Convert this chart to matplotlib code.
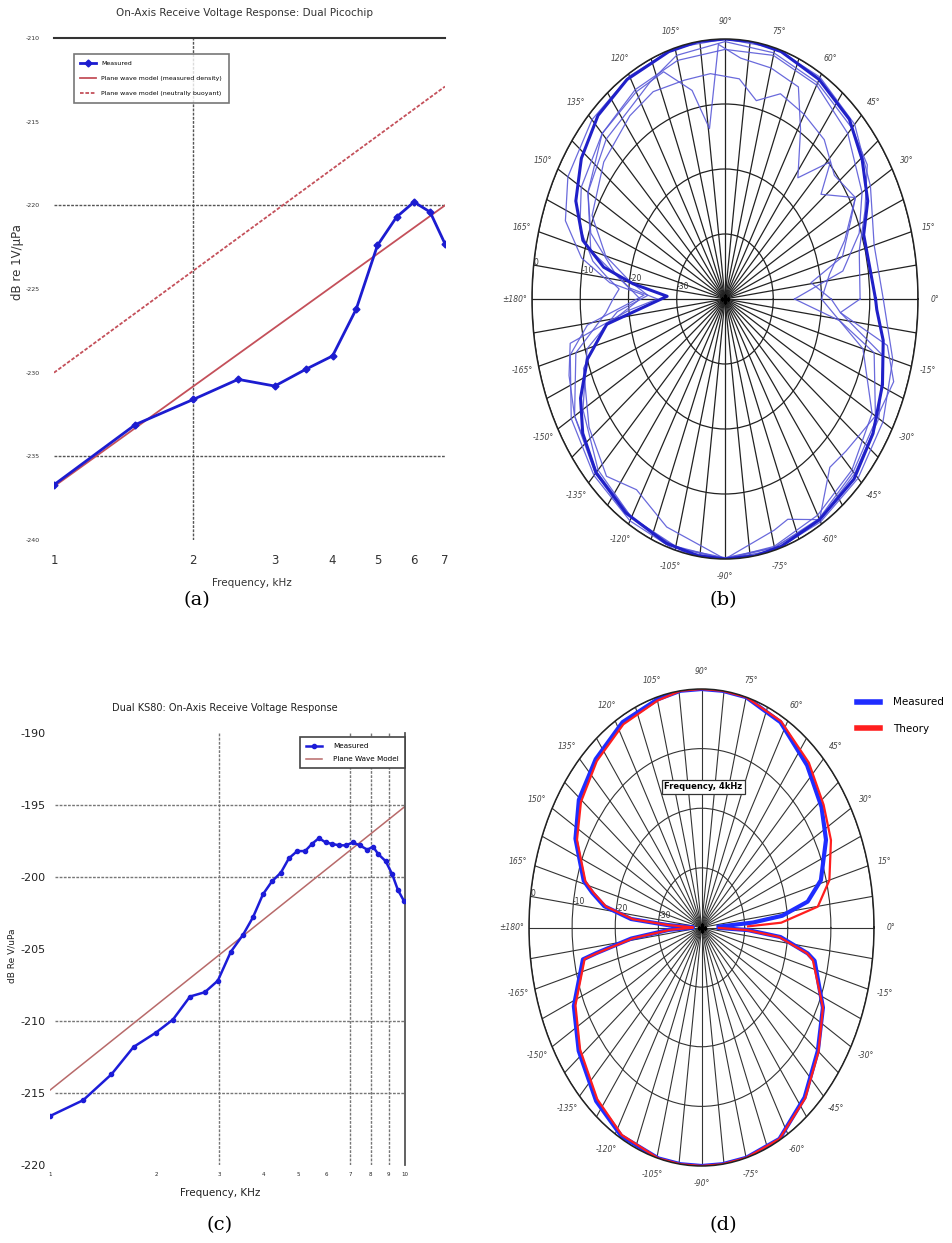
import numpy as np
import matplotlib
matplotlib.use("Agg")
import matplotlib.pyplot as plt
from matplotlib.lines import Line2D

plt.rcParams['axes.unicode_minus'] = False

# ---- panel (a): Dual Picochip on-axis receive voltage response ----
a_freq = [1.0, 1.5, 2.0, 2.5, 3.0, 3.5, 4.0, 4.5, 5.0, 5.5, 6.0, 6.5, 7.0]
a_meas = [-236.7, -233.1, -231.6, -230.4, -230.8, -229.8, -229.0, -226.2,
          -222.4, -220.7, -219.8, -220.4, -222.3]
a_model_freq = [1.0, 7.0]
a_model_density = [-236.8, -220.0]
a_model_buoyant = [-230.0, -212.9]

# ---- panel (c): Dual KS80 on-axis receive voltage response ----
c_freq = [1.0, 1.24, 1.49, 1.72, 1.99, 2.22, 2.48, 2.73, 2.97, 3.23, 3.50,
          3.73, 3.98, 4.22, 4.47, 4.71, 4.97, 5.23, 5.47, 5.72, 5.98, 6.23,
          6.52, 6.82, 7.13, 7.45, 7.83, 8.13, 8.40, 8.82, 9.20, 9.55, 9.95]
c_meas = [-216.6, -215.5, -213.7, -211.8, -210.8, -209.9, -208.3, -208.0,
          -207.2, -205.2, -204.0, -202.8, -201.2, -200.3, -199.7, -198.7,
          -198.2, -198.2, -197.7, -197.3, -197.6, -197.7, -197.8, -197.8,
          -197.6, -197.8, -198.1, -197.9, -198.4, -198.9, -199.8, -200.9,
          -201.7]
c_model_freq = [1.0, 10.0]
c_model = [-214.8, -195.1]

# ---- panel (b): beam patterns (dB, angle in degrees) ----
b_thick_ang = [0, 9, 19, 27, 37, 47, 60, 73, 82, 90, 98, 107, 121, 133, 144,
               154, 163, 169, 173, 178, 189, 198, 207, 215, 225, 238, 252, 262,
               270, 279, 287, 300, 314, 326, 338, 349, 357, 360]
b_thick_db = [-8.8, -9.6, -9.6, -6.8, -4.4, -2.2, -1.0, -0.2, 0.0, 0.0, 0.0,
              -0.2, -0.6, -1.4, -3.2, -5.6, -9.2, -14.4, -20.8, -28.0, -15.2,
              -10.0, -6.4, -4.0, -2.2, -1.2, -0.5, -0.1, 0.0, 0.0, -0.2, -0.8,
              -1.5, -3.0, -4.8, -6.6, -8.5, -8.8]

b_thin1_ang = [0, 15, 30, 45, 60, 75, 90, 105, 120, 135, 150, 160, 168, 174,
               178, 182, 188, 195, 210, 225, 240, 255, 270, 285, 300, 315, 330,
               345, 360]
b_thin1_db = [-7.2, -8.0, -5.2, -2.0, -0.6, 0.0, 0.0, 0.0, -0.4, -1.0, -2.4,
              -4.8, -9.6, -16.0, -23.2, -20.0, -11.2, -6.8, -3.2, -1.6, -0.6,
              0.0, 0.0, 0.0, -0.4, -1.0, -2.2, -4.0, -7.2]

b_thin2_ang = [0, 8, 15, 25, 30, 39, 44, 51, 59, 65, 75, 85, 92, 97, 102, 110,
               120, 135, 150, 160, 168, 172, 176, 180, 185, 195, 210, 225, 240,
               255, 270, 285, 300, 315, 330, 345, 355, 360]
b_thin2_db = [-18.0, -22.0, -14.8, -11.2, -8.8, -14.4, -9.6, -16.0, -9.6, -4.0,
              -3.2, -2.8, -0.8, -13.6, -7.2, -2.8, -3.2, -4.0, -5.6, -8.0,
              -12.0, -15.2, -18.0, -16.8, -15.2, -8.0, -4.0, -2.4, -1.2, -0.4,
              0.0, -0.4, -0.8, -2.0, -3.2, -6.0, -16.0, -18.0]

b_thin3_ang = [0, 10, 20, 30, 45, 60, 75, 90, 105, 120, 135, 150, 160, 170,
               180, 190, 200, 215, 228, 238, 251, 270, 286, 291, 300, 310, 317,
               330, 345, 352, 360]
b_thin3_db = [-25.6, -15.2, -10.4, -7.2, -4.0, -2.0, -1.2, -1.6, -2.0, -2.8,
              -4.0, -7.2, -10.4, -16.8, -22.4, -14.4, -8.8, -5.6, -3.3, -5.4,
              -2.9, 0.0, -3.0, -3.7, -0.8, -6.2, -5.7, -4.0, -8.0, -16.0, -25.6]

b_thin4_ang = [0, 15, 25, 35, 45, 60, 75, 90, 105, 115, 125, 135, 150, 165,
               175, 180, 185, 192, 200, 210, 225, 240, 255, 270, 285, 300, 315,
               330, 340, 348, 355, 360]
b_thin4_db = [-12.0, -11.2, -8.0, -4.0, -2.8, -1.6, -0.8, -0.4, -1.2, -3.2,
              -4.8, -5.2, -7.2, -11.2, -20.0, -26.0, -20.0, -7.2, -5.6, -4.0,
              -2.0, -1.2, -0.4, -0.2, -0.4, -1.0, -2.4, -3.6, -2.8, -5.6,
              -16.0, -12.0]

b_thin5_ang = [0, 10, 20, 30, 40, 50, 60, 70, 78, 85, 95, 104, 115, 125, 140,
               155, 165, 172, 178, 185, 195, 210, 225, 240, 255, 270, 285, 300,
               315, 330, 345, 360]
b_thin5_db = [-20.0, -18.0, -13.6, -8.8, -10.4, -8.0, -7.2, -6.4, -8.8, -6.0,
              -5.2, -5.3, -4.8, -5.6, -7.2, -9.6, -14.4, -20.0, -24.0, -17.6,
              -10.4, -6.0, -2.8, -1.2, -0.6, 0.0, -0.6, -1.6, -2.8, -4.8,
              -10.4, -20.0]

# ---- panel (d): measured vs theory at 4 kHz ----
d_meas_ang = [2, 4, 6, 10, 16, 27, 36, 48, 62, 75, 83, 90, 97, 105, 118, 131,
              143, 153, 164, 167, 171, 175, 177, 179, 181, 183, 186.5, 190,
              191, 204, 216, 230, 242, 255.5, 263, 270, 277, 285, 297, 310,
              322.5, 334.5, 348, 350, 355, 357.7, 359]
d_meas_db = [-36.0, -28.0, -21.2, -15.0, -11.2, -7.6, -5.6, -3.4, -1.0, 0.0,
             0.0, 0.0, 0.0, -0.4, -1.0, -2.6, -4.4, -7.2, -11.6, -14.0, -17.2,
             -23.6, -32.0, -38.0, -38.0, -32.4, -23.6, -15.2, -12.0, -7.6,
             -4.8, -2.0, -0.4, 0.0, 0.0, 0.0, 0.0, 0.0, -0.2, -2.8, -6.0, -8.8,
             -13.2, -15.0, -21.6, -29.2, -36.0]
d_theo_ang = [1, 2.5, 7.4, 15, 26, 36, 48, 62, 75, 83, 90, 97, 105, 118, 131,
              143, 153, 164, 167, 171, 175, 177, 179, 181, 183, 186.5, 190,
              191, 204, 216, 230, 242, 255.5, 263, 270, 277, 285, 297, 310,
              322.5, 334.5, 348, 350, 355, 357.7, 359]
d_theo_db = [-29.2, -21.5, -12.8, -9.3, -6.6, -5.0, -2.8, -0.8, 0.0, 0.0, 0.0,
             0.0, -0.6, -1.4, -3.0, -5.0, -7.6, -12.0, -14.4, -17.6, -24.0,
             -32.4, -38.0, -38.0, -32.8, -24.0, -15.6, -12.4, -8.0, -5.2, -2.4,
             -0.6, 0.0, 0.0, 0.0, 0.0, 0.0, -0.2, -2.6, -5.8, -8.8, -13.6,
             -15.2, -22.0, -29.6, -36.0]

theta_labels = ['0°', '15°', '30°', '45°', '60°', '75°', '90°', '105°', '120°',
                '135°', '150°', '165°', '±180°', '-165°', '-150°', '-135°',
                '-120°', '-105°', '-90°', '-75°', '-60°', '-45°', '-30°', '-15°']
ring_labels = ['-30', '-20', '-10', '0']

W, H = 952, 1243
fig = plt.figure(figsize=(W / 100, H / 100), dpi=100)


def box(l, t, r, b):
    return [l / W, 1 - b / H, (r - l) / W, (b - t) / H]


def ftext(x, y, s, **kw):
    fig.text(x / W, 1 - y / H, s, ha='center', va='center', **kw)


# ---------------- (a) ----------------
ax = fig.add_axes(box(54, 38, 445, 540))
ax.set_xscale('log')
ax.plot(a_model_freq, a_model_density, color='#c4505a', lw=1.3,
        label='Plane wave model (measured density)', zorder=2)
ax.plot(a_model_freq, a_model_buoyant, color='#c4505a', lw=1.3, ls=(0, (2, 1)),
        label='Plane wave model (neutrally buoyant)', zorder=2)
ax.plot(a_freq, a_meas, color='#1c1cd0', lw=2, marker='D', ms=3.5,
        label='Measured', zorder=3)
ax.set_xlim(1, 7)
ax.set_ylim(-240, -210)
ax.set_xticks([1, 2, 3, 4, 5, 6, 7])
ax.set_xticklabels(['1', '2', '3', '4', '5', '6', '7'])
ax.minorticks_off()
ax.set_yticks([-240, -235, -230, -225, -220, -215, -210])
ax.tick_params(axis='y', length=0, labelsize=4.5, pad=10, labelcolor='#333333')
ax.tick_params(axis='x', length=0, labelsize=8.5, pad=10, labelcolor='#333333')
for s in ['left', 'right', 'bottom']:
    ax.spines[s].set_visible(False)
ax.spines['top'].set_linewidth(1.5)
ax.spines['top'].set_color('#333333')
for yv in [-220, -235]:
    ax.axhline(yv, color='#555555', lw=1, ls=(0, (2, 1)), zorder=1)
ax.axvline(2, color='#555555', lw=1, ls=(0, (2, 1)), zorder=1)
h, l = ax.get_legend_handles_labels()
leg = ax.legend([h[2], h[0], h[1]], [l[2], l[0], l[1]], loc='upper left',
                bbox_to_anchor=(0.05, 0.968), fontsize=4.5, frameon=True,
                fancybox=False, edgecolor='#555555', handlelength=2.5,
                borderpad=1.1, labelspacing=1.5, borderaxespad=0)
leg.get_frame().set_linewidth(1.2)
ftext(245, 13, 'On-Axis Receive Voltage Response: Dual Picochip', fontsize=7.5,
      color='#333333')
ftext(18, 262, 'dB re 1V/µPa', fontsize=8.5, rotation=90, color='#333333')
ftext(252, 583, 'Frequency, kHz', fontsize=7.5, color='#333333')
ftext(197, 600, '(a)', fontsize=14, family='DejaVu Serif')

# ---------------- (c) ----------------
ax = fig.add_axes(box(50, 733, 405, 1165))
ax.set_xscale('log')
ax.plot(c_model_freq, c_model, color='#b86a6a', lw=1.1, label='Plane Wave Model',
        zorder=2)
ax.plot(c_freq, c_meas, color='#1c1cd8', lw=1.8, marker='o', ms=3,
        label='Measured', zorder=3)
ax.set_xlim(1, 10)
ax.set_ylim(-220, -190)
ax.set_xticks([1, 2, 3, 4, 5, 6, 7, 8, 9, 10])
ax.set_xticklabels(['1', '2', '3', '4', '5', '6', '7', '8', '9', '10'])
ax.minorticks_off()
ax.set_yticks([-220, -215, -210, -205, -200, -195, -190])
ax.tick_params(axis='y', length=0, labelsize=8, pad=3, labelcolor='#222222')
ax.tick_params(axis='x', length=0, labelsize=4, pad=5, labelcolor='#222222')
for s in ['left', 'top', 'bottom']:
    ax.spines[s].set_visible(False)
ax.spines['right'].set_color('#555555')
ax.spines['right'].set_linewidth(1.3)
for yv in [-195, -200, -210, -215]:
    ax.plot([1.03, 10], [yv, yv], color='#777777', lw=1, ls=(0, (2, 1)), zorder=1)
for xv in [3, 7, 8, 9]:
    ax.axvline(xv, color='#777777', lw=1, ls=(0, (2, 1)), zorder=1)
h, l = ax.get_legend_handles_labels()
leg = ax.legend([h[1], h[0]], [l[1], l[0]], loc='upper right',
                bbox_to_anchor=(1.0, 0.99), fontsize=5.2, frameon=True,
                fancybox=False, edgecolor='#444444', handlelength=2.2,
                handletextpad=1.6, borderpad=0.8, labelspacing=1.0,
                framealpha=1, borderaxespad=0)
leg.get_frame().set_linewidth(1.2)
ftext(225, 708, 'Dual KS80: On-Axis Receive Voltage Response', fontsize=7,
      color='#222222')
ftext(12, 956, 'dB Re V/uPa', fontsize=6.5, rotation=90, color='#222222')
ftext(220, 1193, 'Frequency, KHz', fontsize=7.5, color='#222222')
ftext(220, 1225, '(c)', fontsize=14, family='DejaVu Serif')


# ---------------- polar helpers ----------------
def polar_frame(ax, lab_size):
    ax.set_aspect('auto')
    ax.set_ylim(-40, 0)
    ticks = np.arange(0, 360, 7.5)
    labs = []
    for t in ticks:
        labs.append(theta_labels[int(t // 15)] if t % 15 == 0 else '')
    ax.set_thetagrids(ticks, labs, fontsize=lab_size, color='#444444',
                      fontstyle='italic')
    ax.set_rgrids([-30, -20, -10, 0], ring_labels, angle=173,
                  fontsize=lab_size, color='#333333')
    ax.grid(True, color='#222222', lw=0.9, ls='-')
    ax.spines['polar'].set_color('#222222')
    ax.spines['polar'].set_linewidth(1.1)
    ax.tick_params(axis='x', pad=2)


# ---------------- (b) ----------------
ax = fig.add_axes(box(532, 39, 918, 559), projection='polar')
polar_frame(ax, 5.5)
for ang, db in [(b_thin1_ang, b_thin1_db), (b_thin2_ang, b_thin2_db),
                (b_thin3_ang, b_thin3_db), (b_thin4_ang, b_thin4_db),
                (b_thin5_ang, b_thin5_db)]:
    ax.plot(np.deg2rad(ang), db, color='#5a5ad8', lw=0.9, alpha=0.9)
ax.plot(np.deg2rad(b_thick_ang), b_thick_db, color='#2020c8', lw=2.2)
ax.plot([0], [-40], marker='P', color='black', ms=6)
ftext(723, 600, '(b)', fontsize=14, family='DejaVu Serif')

# ---------------- (d) ----------------
ax = fig.add_axes(box(529, 689, 874, 1166), projection='polar')
polar_frame(ax, 5.5)
ax.grid(True, color='#333333', lw=0.8)
ax.plot(np.deg2rad(d_meas_ang), d_meas_db, color='#1f2cff', lw=3)
ax.plot(np.deg2rad(d_theo_ang), d_theo_db, color='#ff1e1e', lw=1.6)
ax.plot([0], [-40], marker='P', color='black', ms=6)
ax.text(0.505, 0.795, 'Frequency, 4kHz', transform=ax.transAxes, fontsize=6,
        fontweight='bold', ha='center', va='center',
        bbox=dict(boxstyle='square,pad=0.3', fc='white', ec='#333333', lw=0.9))
handles = [Line2D([], [], color='#1f2cff', lw=4),
           Line2D([], [], color='#ff1e1e', lw=4)]
fig.legend(handles, ['Measured', 'Theory'], loc='upper left',
           bbox_to_anchor=(848 / W, 1 - 688 / H), fontsize=7.5, frameon=False,
           handlelength=2.2, labelspacing=1.6, handletextpad=1.2)
ftext(723, 1225, '(d)', fontsize=14, family='DejaVu Serif')

fig.savefig('out.png', dpi=100, facecolor='white')
